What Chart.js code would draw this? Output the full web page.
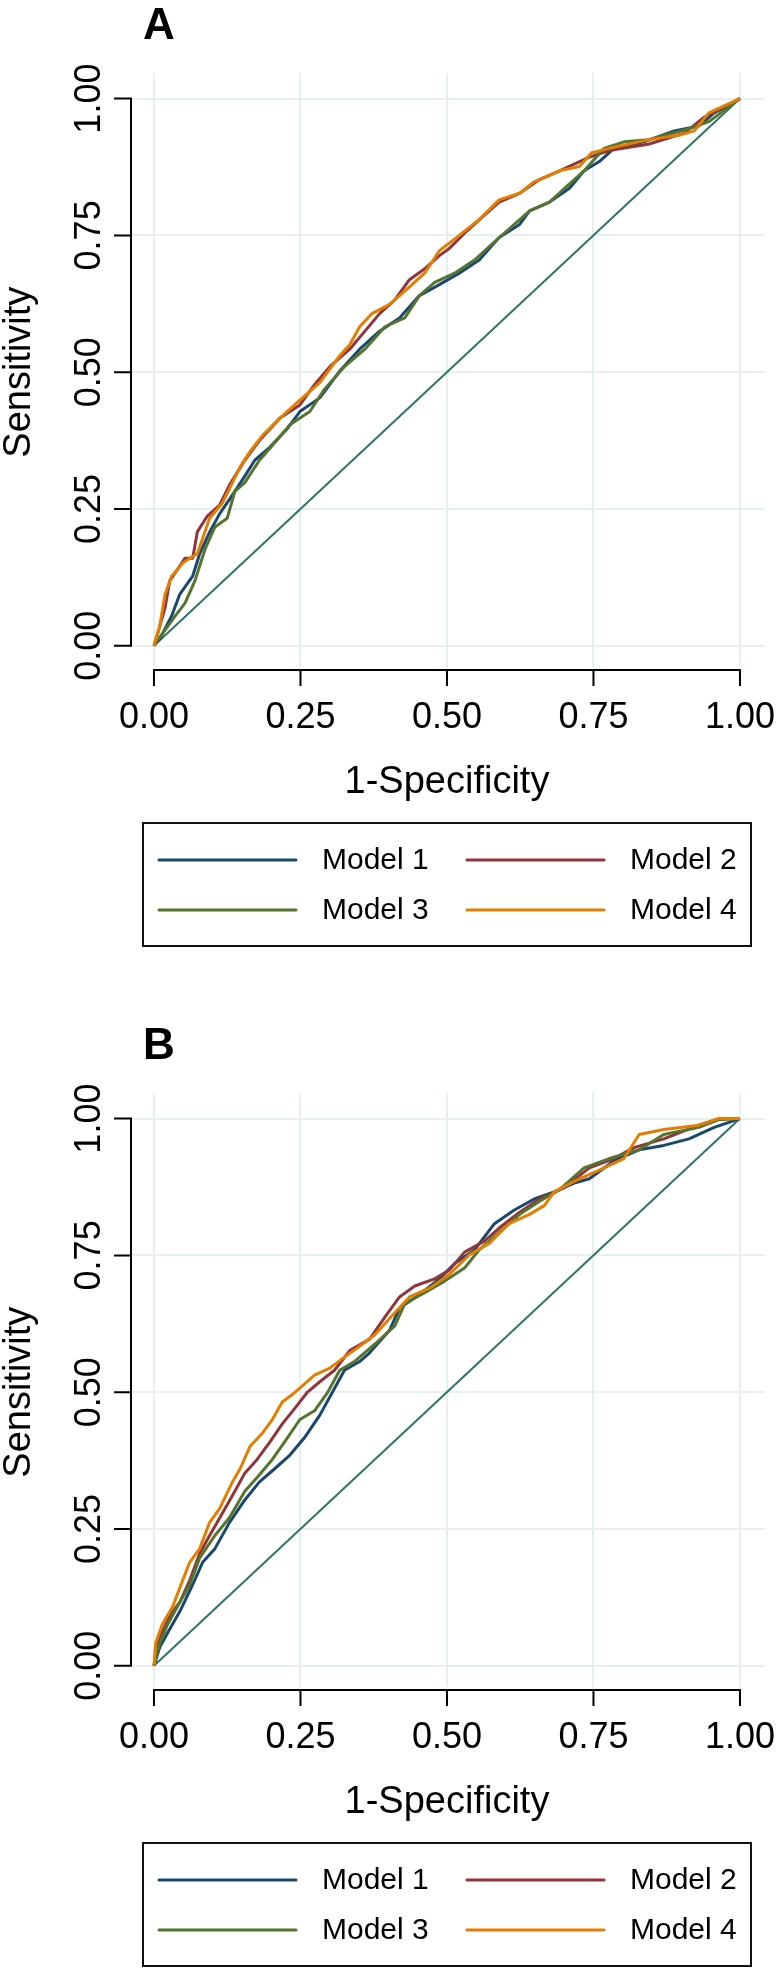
<!DOCTYPE html>
<html><head><meta charset="utf-8">
<script src="https://cdn.jsdelivr.net/npm/chart.js@4.4.1/dist/chart.umd.min.js"></script>
<style>
html,body{margin:0;padding:0;background:#fff;}
#wrap{position:relative;width:783px;height:1974px;background:#fff;}
canvas{position:absolute;left:0;}
</style></head><body>
<div id="wrap">
<canvas id="cA" width="783" height="1020" style="top:0px"></canvas>
<canvas id="cB" width="783" height="954" style="top:1020px"></canvas>
</div>
<script>
// ---- Text / ticks ----
const tickValues = [0, 0.25, 0.5, 0.75, 1];
const tickLabels = ['0.00', '0.25', '0.50', '0.75', '1.00'];
const seriesNames = ['Model 1', 'Model 2', 'Model 3', 'Model 4'];
const panelTitles = ['A', 'B'];
const xTitle = '1-Specificity';
const yTitle = 'Sensitivity';
const refX = [0, 1];
const refY = [0, 1];

// ---- Panel A ----
const a1x = [0,0.01,0.03,0.044,0.066,0.078,0.095,0.112,0.138,0.155,0.172,0.198,0.227,0.249,0.283,0.317,0.351,0.385,0.419,0.453,0.487,0.521,0.555,0.589,0.624,0.641,0.675,0.709,0.734,0.76,0.785,0.836,0.888,0.93,0.956,1];
const a1y = [0,0.013,0.054,0.094,0.127,0.168,0.208,0.241,0.282,0.31,0.339,0.363,0.396,0.428,0.453,0.502,0.542,0.575,0.599,0.64,0.66,0.681,0.705,0.746,0.77,0.795,0.811,0.836,0.868,0.885,0.909,0.921,0.941,0.95,0.974,1];
const a2x = [0,0.006,0.019,0.027,0.04,0.053,0.066,0.074,0.091,0.112,0.129,0.155,0.18,0.215,0.249,0.274,0.3,0.334,0.36,0.385,0.411,0.436,0.462,0.487,0.504,0.53,0.564,0.589,0.624,0.658,0.692,0.743,0.777,0.845,0.905,0.939,1];
const a2y = [0,0.021,0.07,0.119,0.139,0.16,0.16,0.208,0.237,0.257,0.294,0.339,0.375,0.416,0.44,0.477,0.51,0.542,0.575,0.607,0.632,0.669,0.689,0.713,0.726,0.754,0.787,0.811,0.827,0.852,0.868,0.893,0.905,0.917,0.937,0.966,1];
const a3x = [0,0.014,0.036,0.053,0.07,0.087,0.104,0.125,0.138,0.155,0.18,0.206,0.232,0.266,0.291,0.325,0.36,0.394,0.428,0.453,0.479,0.513,0.547,0.581,0.615,0.641,0.675,0.709,0.734,0.768,0.802,0.845,0.913,0.947,1];
const a3y = [0,0.021,0.054,0.078,0.119,0.176,0.217,0.233,0.282,0.298,0.339,0.371,0.404,0.428,0.469,0.51,0.542,0.583,0.599,0.64,0.664,0.681,0.705,0.738,0.77,0.795,0.811,0.844,0.868,0.909,0.921,0.925,0.945,0.958,1];
const a4x = [0,0.01,0.019,0.03,0.05,0.074,0.095,0.117,0.134,0.147,0.164,0.185,0.215,0.249,0.283,0.317,0.334,0.351,0.372,0.402,0.428,0.462,0.487,0.521,0.555,0.589,0.624,0.649,0.692,0.726,0.747,0.777,0.845,0.896,0.922,0.947,1];
const a4y = [0,0.037,0.094,0.127,0.152,0.168,0.233,0.261,0.298,0.327,0.355,0.384,0.416,0.449,0.481,0.53,0.55,0.583,0.607,0.624,0.648,0.681,0.722,0.75,0.779,0.815,0.827,0.848,0.868,0.876,0.901,0.909,0.925,0.933,0.941,0.974,1];

// ---- Panel B ----
const b1x = [0,0.01,0.027,0.044,0.066,0.083,0.104,0.129,0.155,0.18,0.206,0.232,0.257,0.283,0.304,0.325,0.351,0.368,0.402,0.419,0.453,0.487,0.513,0.547,0.581,0.615,0.649,0.683,0.717,0.743,0.785,0.828,0.87,0.913,0.956,1];
const b1y = [0,0.034,0.067,0.099,0.148,0.189,0.214,0.262,0.303,0.336,0.36,0.385,0.417,0.458,0.499,0.54,0.556,0.572,0.613,0.654,0.678,0.707,0.735,0.76,0.808,0.833,0.853,0.866,0.882,0.89,0.923,0.943,0.951,0.963,0.984,1];
const b2x = [0,0.006,0.027,0.044,0.061,0.078,0.095,0.117,0.138,0.155,0.176,0.198,0.219,0.24,0.261,0.283,0.308,0.334,0.368,0.394,0.419,0.445,0.479,0.504,0.53,0.564,0.589,0.624,0.658,0.7,0.743,0.785,0.819,0.87,0.93,0.964,1];
const b2y = [0,0.042,0.091,0.116,0.156,0.205,0.238,0.279,0.319,0.352,0.377,0.409,0.442,0.47,0.499,0.519,0.54,0.576,0.597,0.637,0.674,0.694,0.707,0.723,0.756,0.776,0.8,0.829,0.853,0.874,0.91,0.927,0.947,0.963,0.988,1,1];
const b3x = [0,0.009,0.023,0.04,0.061,0.078,0.104,0.129,0.155,0.176,0.202,0.223,0.249,0.274,0.296,0.317,0.342,0.377,0.411,0.428,0.462,0.496,0.53,0.555,0.589,0.624,0.658,0.692,0.734,0.777,0.828,0.87,0.93,0.964,1];
const b3y = [0,0.038,0.075,0.108,0.148,0.197,0.238,0.271,0.319,0.344,0.377,0.409,0.45,0.466,0.499,0.54,0.556,0.588,0.621,0.662,0.682,0.703,0.727,0.76,0.792,0.825,0.849,0.87,0.91,0.927,0.943,0.971,0.984,0.998,1];
const b4x = [0,0.003,0.014,0.032,0.049,0.061,0.078,0.095,0.112,0.134,0.147,0.164,0.185,0.202,0.219,0.24,0.257,0.274,0.3,0.325,0.351,0.377,0.411,0.436,0.47,0.504,0.538,0.572,0.606,0.641,0.666,0.683,0.726,0.76,0.802,0.828,0.87,0.93,0.964,1];
const b4y = [0,0.042,0.075,0.108,0.156,0.189,0.214,0.262,0.287,0.336,0.36,0.401,0.425,0.45,0.482,0.499,0.515,0.531,0.544,0.564,0.584,0.605,0.645,0.674,0.69,0.715,0.751,0.772,0.808,0.825,0.841,0.866,0.89,0.906,0.927,0.971,0.98,0.988,1,1];

const colors = ['#1a476f', '#90353b', '#55752f', '#e37e00'];
const refColor = '#2e7566';

function pts(xs, ys) { return xs.map((x, i) => ({x: x, y: ys[i]})); }

const decor = {
  id: 'decor',
  afterDraw(chart, args, opts) {
    const ctx = chart.ctx, xs = chart.scales.x, ys = chart.scales.y, ca = chart.chartArea;
    ctx.save();
    ctx.strokeStyle = '#000'; ctx.fillStyle = '#000'; ctx.lineWidth = 2;
    // Y axis
    const yAx = ca.left - 1;
    const yTop = ys.getPixelForValue(tickValues[tickValues.length - 1]);
    const yBot = ys.getPixelForValue(tickValues[0]);
    ctx.beginPath();
    ctx.moveTo(yAx, yBot); ctx.lineTo(yAx, yTop);
    tickValues.forEach(v => { const p = ys.getPixelForValue(v); ctx.moveTo(yAx + 1, p); ctx.lineTo(yAx - 17, p); });
    ctx.stroke();
    ctx.font = '36px "Liberation Sans", Arial, sans-serif';
    ctx.textAlign = 'center'; ctx.textBaseline = 'alphabetic';
    tickValues.forEach((v, i) => {
      const p = ys.getPixelForValue(v);
      ctx.save(); ctx.translate(yAx - 31, p); ctx.rotate(-Math.PI / 2); ctx.fillText(tickLabels[i], 0, 0); ctx.restore();
    });
    // X axis
    const xAy = ca.bottom + 3;
    const xL = xs.getPixelForValue(tickValues[0]);
    const xR = xs.getPixelForValue(tickValues[tickValues.length - 1]);
    ctx.beginPath();
    ctx.moveTo(xL, xAy); ctx.lineTo(xR, xAy);
    tickValues.forEach(v => { const p = xs.getPixelForValue(v); ctx.moveTo(p, xAy - 1); ctx.lineTo(p, xAy + 16); });
    ctx.stroke();
    tickValues.forEach((v, i) => { ctx.fillText(tickLabels[i], xs.getPixelForValue(v), xAy + 58); });
    // Axis titles
    ctx.font = '38px "Liberation Sans", Arial, sans-serif';
    ctx.save(); ctx.translate(30, (yTop + yBot) / 2); ctx.rotate(-Math.PI / 2); ctx.fillText(yTitle, 0, 0); ctx.restore();
    ctx.fillText(xTitle, (xL + xR) / 2, xAy + 123);
    // Panel letter
    ctx.font = 'bold 44px "Liberation Sans", Arial, sans-serif';
    ctx.textAlign = 'left';
    ctx.fillText(opts.letter, 143, 39);
    // Legend
    const lx = 143, ly = ca.bottom + 156, lw = 608, lh = 123;
    ctx.lineWidth = 2; ctx.strokeStyle = '#111';
    ctx.strokeRect(lx, ly, lw, lh);
    ctx.font = '30px "Liberation Sans", Arial, sans-serif';
    ctx.textBaseline = 'middle';
    const ds = chart.data.datasets.filter(d => d.isModel);
    ds.forEach((d, i) => {
      const col = i % 2, row = Math.floor(i / 2);
      const cy = ly + 37 + row * 50;
      const x0 = lx + 16 + col * 308;
      ctx.strokeStyle = d.borderColor; ctx.lineWidth = 3; ctx.lineCap = 'round';
      ctx.beginPath(); ctx.moveTo(x0, cy); ctx.lineTo(x0 + 137, cy); ctx.stroke();
      ctx.fillStyle = '#000';
      ctx.fillText(d.label, x0 + 163, cy + 1);
    });
    ctx.restore();
  }
};

function makeChart(id, letter, series, bottomPad) {
  const datasets = series.map((s, i) => ({
    label: seriesNames[i], isModel: true,
    data: pts(s[0], s[1]),
    borderColor: colors[i], borderWidth: 3, pointRadius: 0, tension: 0,
    borderJoinStyle: 'round', fill: false, order: 4 - i
  }));
  datasets.push({
    label: 'Reference', isModel: false, data: pts(refX, refY),
    borderColor: refColor, borderWidth: 2, pointRadius: 0, tension: 0, fill: false, order: 10
  });
  const axisCommon = (min, max) => ({
    type: 'linear', min: min, max: max,
    afterBuildTicks: (sc) => { sc.ticks = tickValues.map(v => ({value: v})); },
    grid: {color: '#e6eff1', lineWidth: 2, drawTicks: false},
    border: {display: false},
    ticks: {display: false},
    title: {display: false}
  });
  return new Chart(document.getElementById(id), {
    type: 'line',
    data: {datasets: datasets},
    options: {
      responsive: false, animation: false, events: [],
      layout: {padding: {left: 132, right: 18, top: 73, bottom: bottomPad}},
      scales: {x: axisCommon(-0.0375, 1.0427), y: axisCommon(-0.0389, 1.0468)},
      plugins: {legend: {display: false}, tooltip: {enabled: false}, decor: {letter: letter}}
    },
    plugins: [decor]
  });
}

makeChart('cA', panelTitles[0], [[a1x, a1y], [a2x, a2y], [a3x, a3y], [a4x, a4y]], 353);
makeChart('cB', panelTitles[1], [[b1x, b1y], [b2x, b2y], [b3x, b3y], [b4x, b4y]], 287);
</script>
</body></html>
